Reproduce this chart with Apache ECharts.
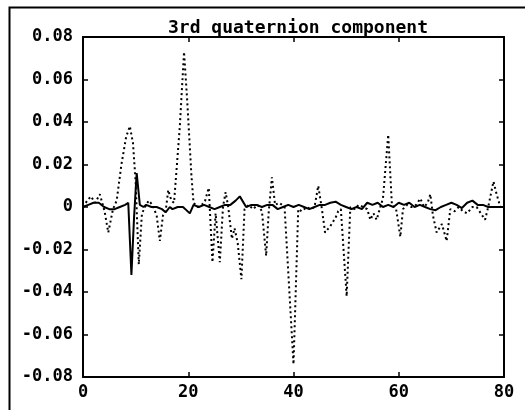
<!DOCTYPE html>
<html>
<head>
<meta charset="utf-8">
<script src="https://cdn.jsdelivr.net/npm/echarts@6/dist/echarts.min.js"></script>
<style>html,body{margin:0;padding:0;background:#fff}#c{width:525px;height:410px}</style>
</head>
<body>
<div id="c"></div>
<script>
var titleText = '3rd quaternion component';
var xTicks = [0, 20, 40, 60, 80];
var yTicks = [-0.08, -0.06, -0.04, -0.02, 0, 0.02, 0.04, 0.06, 0.08];

var solidX = [0,1,2,3,4,5,6,7,8,8.6,9.2,9.7,10.2,10.8,11.5,12,13,14,15,15.7,16.5,17,18,19,20.3,21,22,23,24,25,26,27,28,29,29.8,31,32,33,34,35,36,37,38,39,40,41,42,43,44,45,46,47,48,49,50,51,52,53,54,55,56,57,58,59,60,61,62,63,64,65,66,67,68,69,70,71,72,73,74,75,76,77,78,79,80];
var solidY = [0,0.001,0.002,0.002,0,-0.001,-0.001,0,0.001,0.002,-0.032,-0.005,0.016,0.001,0,0.001,0,0,-0.001,-0.0025,0,-0.001,0,0,-0.003,0.001,0,0.001,0,-0.001,0,0.001,0.001,0.003,0.005,0,0.001,0.001,0,0.001,0.001,-0.001,0,0.001,0,0.001,0,-0.001,0,0.001,0.001,0.002,0.0025,0.001,0,-0.001,0,-0.001,0.002,0.001,0.002,0,0.001,0,0.002,0.001,0.002,0,0.001,0,-0.001,-0.0015,0,0.001,0.002,0.001,-0.0005,0.002,0.003,0.001,0.001,0,0,0,0];

var dottedX = [0,0.8,1.5,2.3,3.2,4.1,4.8,5.7,6.4,7.3,8.2,8.9,9.5,10.0,10.6,11.2,12.0,12.5,13.2,14.0,14.6,15.2,15.7,16.2,16.8,17.3,18.4,19.2,19.8,20.6,21.0,21.8,22.6,23.2,23.9,24.6,25.2,26.0,26.6,27.1,27.6,28.3,28.8,29.4,30.1,30.7,31.5,32.3,33.2,34.0,34.8,35.3,35.9,36.5,37.3,38.3,40.0,40.9,41.6,42.5,43.3,44.0,44.7,45.4,46.0,47.0,48.0,48.5,49.0,50.1,50.8,51.6,52.4,53.2,54.0,54.6,55.2,55.8,56.5,57.0,58.0,58.7,59.5,60.3,60.8,61.6,62.4,63.3,64.1,64.8,65.5,66.0,66.5,67.2,68.2,69.1,69.8,70.6,71.4,72.2,73.0,74.0,74.8,75.6,76.4,77.0,77.5,78.0,78.6,79.3,80.0];
var dottedY = [0,0.003,0.005,0.002,0.006,-0.002,-0.012,-0.001,0.003,0.020,0.033,0.038,0.030,0.012,-0.027,-0.003,0.001,0.003,0.001,-0.004,-0.016,-0.004,-0.002,0.008,0.003,0.002,0.038,0.073,0.050,0.015,0.002,0,0.001,0.003,0.009,-0.026,-0.003,-0.026,0,0.007,0,-0.015,-0.010,-0.017,-0.034,-0.001,0.001,-0.001,0.001,-0.002,-0.023,-0.002,0.014,0.001,0.002,0,-0.074,-0.001,-0.002,0,-0.001,0,0.010,-0.001,-0.012,-0.009,-0.005,-0.002,-0.001,-0.042,0,-0.001,0.001,0,-0.001,-0.006,-0.003,-0.006,0,0.004,0.034,0.001,-0.001,-0.014,-0.001,0.001,0,0.001,0.004,0,0.002,0.006,-0.004,-0.012,-0.008,-0.016,-0.001,-0.002,0,-0.002,-0.003,0,0,-0.003,-0.006,0,0.006,0.012,0.006,0,0.001];

function zip(xs, ys) { return xs.map(function (x, i) { return [x, ys[i]]; }); }

var FONT = '"DejaVu Sans Mono", "Liberation Mono", monospace';
var chart = echarts.init(document.getElementById('c'), null, {renderer: 'canvas'});

function axisBase(extra) {
  var a = {
    axisLine: {show: true, onZero: false, lineStyle: {color: '#000', width: 2}},
    axisTick: {show: true, inside: true, length: 5, lineStyle: {color: '#000', width: 1.5}},
    splitLine: {show: false}
  };
  for (var k in extra) a[k] = extra[k];
  return a;
}

chart.setOption({
  animation: false,
  backgroundColor: '#fff',
  title: {
    text: titleText,
    left: 293, top: 14, textAlign: 'center',
    textStyle: {fontFamily: FONT, fontWeight: 'bold', fontSize: 18, color: '#000'}
  },
  grid: {left: 83, right: 21, top: 37, bottom: 33, containLabel: false},
  xAxis: [
    axisBase({type: 'value', position: 'bottom', min: xTicks[0], max: xTicks[xTicks.length - 1], interval: 20,
      axisLabel: {show: true, margin: 7, color: '#000', fontFamily: FONT, fontWeight: 'bold', fontSize: 17}}),
    axisBase({type: 'value', position: 'top', min: xTicks[0], max: xTicks[xTicks.length - 1], interval: 20,
      axisLabel: {show: false}})
  ],
  yAxis: [
    axisBase({type: 'value', position: 'left', min: yTicks[0], max: yTicks[yTicks.length - 1], interval: 0.02,
      axisLabel: {show: true, margin: 10, color: '#000', fontFamily: FONT, fontWeight: 'bold', fontSize: 17,
        formatter: function (v) { return Math.abs(v) < 1e-9 ? '0' : v.toFixed(2); }}}),
    axisBase({type: 'value', position: 'right', min: yTicks[0], max: yTicks[yTicks.length - 1], interval: 0.02,
      axisLabel: {show: false}})
  ],
  graphic: [{
    type: 'rect', left: 7, top: 5, silent: true,
    shape: {x: 0, y: 0, width: 530, height: 404},
    style: {fill: 'none', stroke: '#000', lineWidth: 2}
  }],
  series: [
    {type: 'line', xAxisIndex: 0, yAxisIndex: 0, data: zip(dottedX, dottedY), symbol: 'none',
      lineStyle: {color: '#000', width: 2, type: [2, 3]}},
    {type: 'line', xAxisIndex: 0, yAxisIndex: 0, data: zip(solidX, solidY), symbol: 'none',
      lineStyle: {color: '#000', width: 2}}
  ]
});
</script>
</body>
</html>
